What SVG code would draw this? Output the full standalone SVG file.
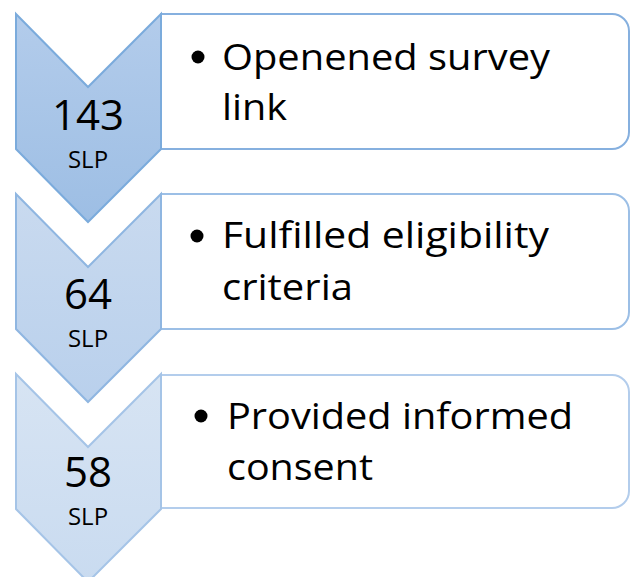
<svg xmlns="http://www.w3.org/2000/svg" width="630" height="577" viewBox="0 0 630 577">
  <defs>
    <linearGradient id="g1" x1="0" y1="0" x2="0" y2="1">
      <stop offset="0" stop-color="#b3cceb"/>
      <stop offset="1" stop-color="#9dbee4"/>
    </linearGradient>
    <linearGradient id="g2" x1="0" y1="0" x2="0" y2="1">
      <stop offset="0" stop-color="#c9daef"/>
      <stop offset="1" stop-color="#b9d0ec"/>
    </linearGradient>
    <linearGradient id="g3" x1="0" y1="0" x2="0" y2="1">
      <stop offset="0" stop-color="#d7e4f3"/>
      <stop offset="1" stop-color="#c9dbf0"/>
    </linearGradient>
  </defs>
  <style>
    .label { font-family: "Open Sans", "Noto Sans", sans-serif; fill: #000; text-anchor: middle; }
    .num { font-size: 42px; }
    .unit { font-size: 24px; }
    .item { font-family: "Open Sans", "Noto Sans", sans-serif; font-size: 36px; fill: #000; }
    .box { fill: #ffffff; stroke-width: 2; }
    .chev { stroke-width: 2; stroke-linejoin: miter; }
  </style>
  <rect width="630" height="577" fill="#ffffff"/>

  <g id="step1">
    <path class="box" stroke="#86b0df" d="M161,14 H612 A17,17 0 0 1 629,31 V132 A17,17 0 0 1 612,149 H161 Z"/>
    <path class="chev" fill="url(#g1)" stroke="#7babdc" d="M16,14 L88,87 L161,14 L161,149 L88,222 L16,149 Z"/>
    <text class="label"><tspan class="num" x="88" y="130">143</tspan><tspan class="unit" x="88" y="168">SLP</tspan></text>
    <circle cx="198" cy="57" r="6.5" fill="#000"/>
    <text class="item" x="222" y="70" textLength="328" lengthAdjust="spacingAndGlyphs">Openened survey</text>
    <text class="item" x="222" y="120" textLength="65" lengthAdjust="spacingAndGlyphs">link</text>
  </g>

  <g id="step2">
    <path class="box" stroke="#9cbfe6" d="M161,194 H612 A17,17 0 0 1 629,211 V312 A17,17 0 0 1 612,329 H161 Z"/>
    <path class="chev" fill="url(#g2)" stroke="#8fb6e1" d="M16,194 L88,267 L161,194 L161,329 L88,402 L16,329 Z"/>
    <text class="label"><tspan class="num" x="88" y="309">64</tspan><tspan class="unit" x="88" y="347">SLP</tspan></text>
    <circle cx="197" cy="236" r="6.5" fill="#000"/>
    <text class="item" x="222" y="248" textLength="327" lengthAdjust="spacingAndGlyphs">Fulfilled eligibility</text>
    <text class="item" x="222" y="300" textLength="131" lengthAdjust="spacingAndGlyphs">criteria</text>
  </g>

  <g id="step3">
    <path class="box" stroke="#b3cdec" d="M161,375 H612 A17,17 0 0 1 629,392 V491 A17,17 0 0 1 612,508 H161 Z"/>
    <path class="chev" fill="url(#g3)" stroke="#a5c4e7" d="M16,374 L88,447 L161,374 L161,509 L88,582 L16,509 Z"/>
    <text class="label"><tspan class="num" x="88" y="487">58</tspan><tspan class="unit" x="88" y="525">SLP</tspan></text>
    <circle cx="201" cy="416" r="6.5" fill="#000"/>
    <text class="item" x="227" y="429" textLength="346" lengthAdjust="spacingAndGlyphs">Provided informed</text>
    <text class="item" x="227" y="480" textLength="146" lengthAdjust="spacingAndGlyphs">consent</text>
  </g>

  <g id="connectors"></g>
</svg>
